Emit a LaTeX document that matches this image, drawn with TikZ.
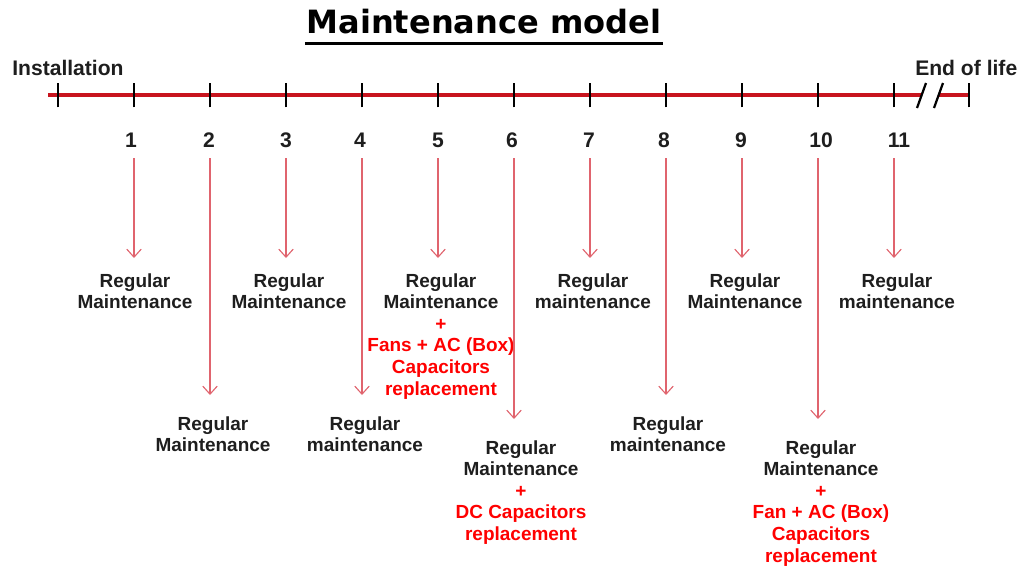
\documentclass[tikz,border=0pt]{standalone}
\usepackage{fontspec}
\setmainfont{Liberation Sans}
\newfontfamily\titlefont{DejaVu Sans}
\usetikzlibrary{positioning,arrows.meta}
\definecolor{lineRed}{HTML}{C8141E}
\definecolor{arrowRed}{HTML}{E0646E}
\definecolor{textRed}{HTML}{FF0000}
\definecolor{textDark}{HTML}{1E1E1E}

\begin{document}
\begin{tikzpicture}[x=0.025cm, y=-0.025cm,
    font=\bfseries\fontsize{13.5}{15.3}\selectfont,
    task/.style={align=center, text=textDark, inner sep=1pt, anchor=north},
    num/.style={font=\bfseries\fontsize{15}{18}\selectfont, text=textDark, inner sep=2pt, anchor=base},
    tickmark/.style={draw=black, line width=1.6pt},
    link/.style={draw=arrowRed, line width=0.8pt, shorten <=2mm, -{Straight Barb[length=2mm,width=3.6mm]}}]

\useasboundingbox (0,0) rectangle (1021,568);

% 1. Title
\node[font=\titlefont\bfseries\fontsize{22.8}{26}\selectfont, inner sep=0pt, anchor=base] (title) at (484,33) {Maintenance model};
\draw[line width=2.2pt] ([xshift=-1pt,yshift=-7.5pt]title.base west) -- ([xshift=1pt,yshift=-7.5pt]title.base east);

% 2. Time line with ticks and break
\coordinate (start) at (48,95);
\coordinate (brkA) at (921,95);
\coordinate (brkB) at (939,95);
\coordinate (finish) at (969,95);
\draw[lineRed, line width=3.2pt] (start) -- (brkA);
\draw[lineRed, line width=3.2pt] (brkB) -- (finish);
\foreach \i in {0,...,11}
    \coordinate (t\i) at (58+76*\i,95);
\foreach \i in {0,...,11}
    \draw[tickmark] ([yshift=-0.31cm]t\i) -- ([yshift=0.31cm]t\i);
\draw[tickmark] ([yshift=-0.31cm]finish) -- ([yshift=0.31cm]finish);
\draw[tickmark] (917,108) -- (926,83);
\draw[tickmark] (934,108) -- (943,83);

\node[font=\bfseries\fontsize{15}{18}\selectfont, text=textDark, inner sep=0pt, anchor=base west] (inst) at (12,75) {Installation};
\node[font=\bfseries\fontsize{15}{18}\selectfont, text=textDark, inner sep=0pt, anchor=base west] (eol) at (915,75) {End of life};

% 3. Year numbers
\foreach \i/\x in {1/131,2/209,3/286,4/360,5/438,6/512,7/589,8/664,9/741,10/821,11/899}
    \node[num] (n\i) at (\x,147) {\i};

% 4. Maintenance actions, upper row
\node[task] (m1) at (135,272) {Regular\\Maintenance};
\node[task] (m3) at (289,272) {Regular\\Maintenance};
\node[task] (m5) at (441,272) {Regular\\Maintenance\\\textcolor{textRed}{+}\\\textcolor{textRed}{Fans + AC (Box)}\\\textcolor{textRed}{Capacitors}\\\textcolor{textRed}{replacement}};
\node[task] (m7) at (593,272) {Regular\\maintenance};
\node[task] (m9) at (745,272) {Regular\\Maintenance};
\node[task] (m11) at (897,272) {Regular\\maintenance};

% 5. Maintenance actions, lower row
\node[task] (m2) at (213,415) {Regular\\Maintenance};
\node[task] (m4) at (365,415) {Regular\\maintenance};
\node[task] (m6) at (521,439) {Regular\\Maintenance\\\textcolor{textRed}{+}\\\textcolor{textRed}{DC Capacitors}\\\textcolor{textRed}{replacement}};
\node[task] (m8) at (668,415) {Regular\\maintenance};
\node[task] (m10) at (821,439) {Regular\\Maintenance\\\textcolor{textRed}{+}\\\textcolor{textRed}{Fan + AC (Box)}\\\textcolor{textRed}{Capacitors}\\\textcolor{textRed}{replacement}};

% 6. Arrows from years to actions
\foreach \i/\s in {1/3.5,2/5,3/3.5,4/5,5/3.5,6/5,7/3.5,8/5,9/3.5,10/5,11/3.5}
    \draw[link, shorten >=\s mm] (n\i.south -| t\i) -- (m\i.north -| t\i);

\end{tikzpicture}
\end{document}
